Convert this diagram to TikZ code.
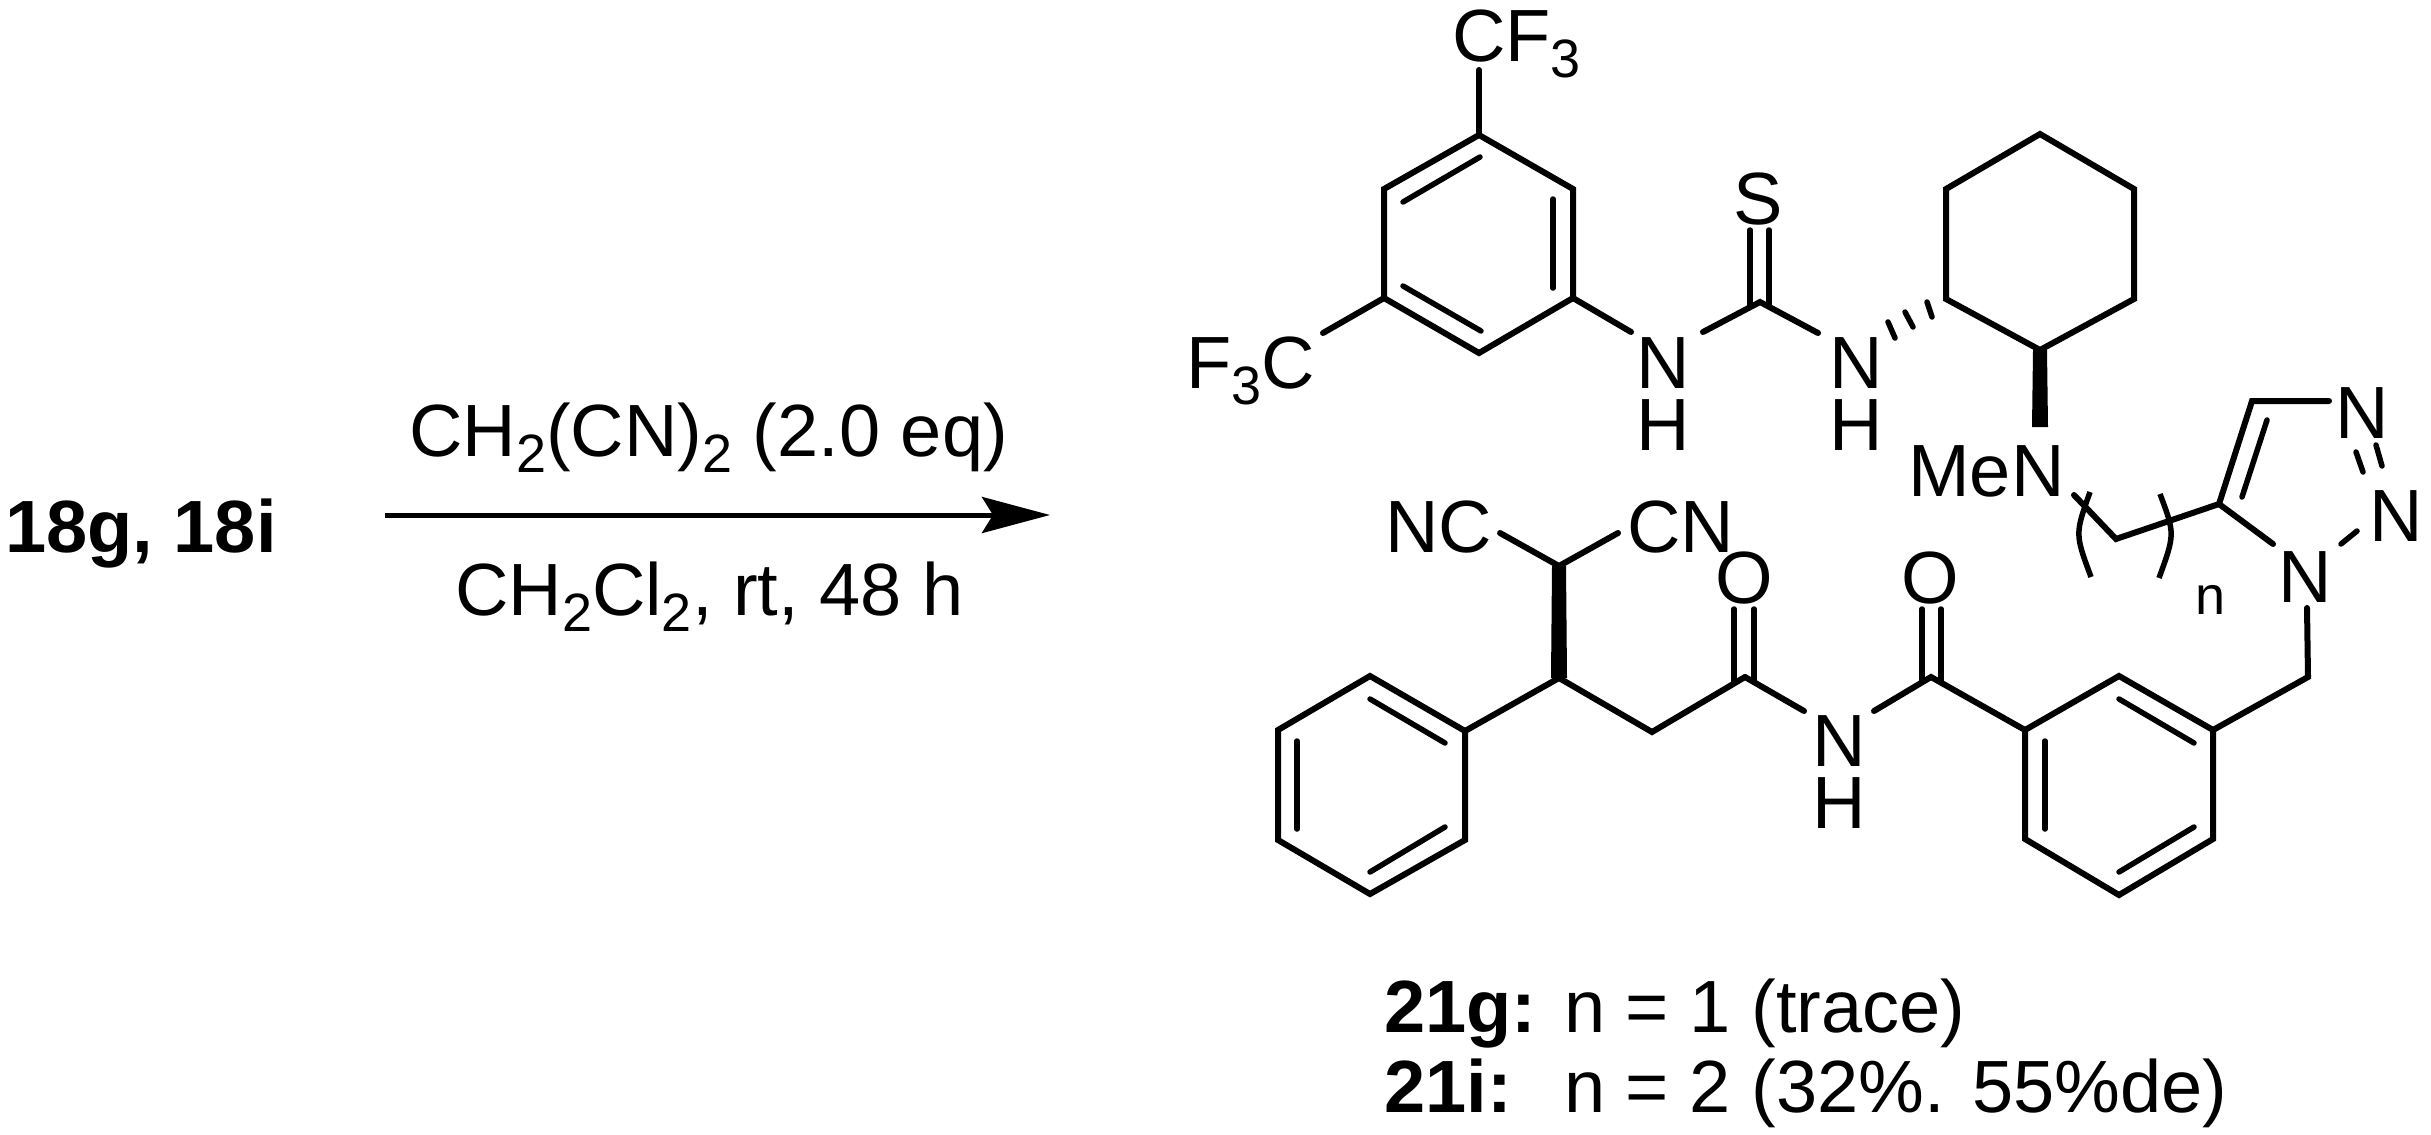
\documentclass[tikz,border=0pt]{standalone}
\usepackage{fontspec}
\usetikzlibrary{arrows.meta}
\setmainfont{Liberation Sans}
\newcommand{\atomsize}{\fontsize{74}{80}\selectfont}
\newcommand{\lab}[1]{\raisebox{-16pt}{\fontsize{54}{60}\selectfont #1}}
\begin{document}
\begin{tikzpicture}[
      x=1pt,
      y=-1pt,
      atom/.style={
        inner sep=0pt,
        anchor=base,
        font=\atomsize
      },
      atomleft/.style={
        atom,
        anchor=base west
      },
      bond/.style={
        line width=6pt,
        line cap=round
      },
      thinbond/.style={
        line width=5.5pt,
        line cap=round
      }
    ]
    \useasboundingbox (0,0) rectangle (2431,1135);

    % reaction arrow and its texts
    \node[atomleft] (start) at (5,552) {\bfseries 18g, 18i};
    \node[atomleft] (above) at (409,456) {CH\lab{2}(CN)\lab{2} (2.0 eq)};
    \node[atomleft] (below) at (455,615) {CH\lab{2}Cl\lab{2}, rt, 48 h};
    \node[coordinate] (arl) at (385,515) {};
    \node[coordinate] (arr) at (1050,515) {};
    \draw[line width=5pt,-{Stealth[length=68pt,width=36pt,inset=11pt]}] (arl) -- (arr);

    % ring with the two CF3
    \node[coordinate] (a1) at (1479,135) {};
    \node[coordinate] (a2) at (1573,189) {};
    \node[coordinate] (a3) at (1573,298) {};
    \node[coordinate] (a4) at (1479,353) {};
    \node[coordinate] (a5) at (1384,298) {};
    \node[coordinate] (a6) at (1384,189) {};
    \draw[bond] (a1) -- (a2) -- (a3) -- (a4) -- (a5) -- (a6) -- cycle;
    \node[coordinate] (a1i) at (1480,157) {};
    \node[coordinate] (a6i) at (1403,202) {};
    \node[coordinate] (a2i) at (1553,199) {};
    \node[coordinate] (a3i) at (1553,288) {};
    \node[coordinate] (a5i) at (1403,286) {};
    \node[coordinate] (a4i) at (1481,331) {};
    \draw[thinbond] (a1i) -- (a6i);
    \draw[thinbond] (a2i) -- (a3i);
    \draw[thinbond] (a5i) -- (a4i);

    \node[atomleft] (cf3) at (1452,61) {CF\lab{3}};
    \node[atomleft] (f3c) at (1186,388) {F\lab{3}C};
    \node[coordinate] (cf3b) at (1479,70) {};
    \node[coordinate] (f3cb) at (1323,333) {};
    \draw[bond] (a1) -- (cf3b);
    \draw[bond] (a5) -- (f3cb);

    % thiourea
    \node[atom] (n1) at (1663,388) {N};
    \node[atom] (h1) at (1663,450) {H};
    \node[atom] (n2) at (1856,388) {N};
    \node[atom] (h2) at (1856,450) {H};
    \node[atom] (s) at (1758,224) {S};
    \node[coordinate] (ct) at (1760,302) {};
    \node[coordinate] (n1l) at (1631,332) {};
    \node[coordinate] (n1r) at (1703,332) {};
    \node[coordinate] (n2l) at (1818,333) {};
    \node[coordinate] (s1) at (1750,230) {};
    \node[coordinate] (s2) at (1769,230) {};
    \node[coordinate] (ct1) at (1750,306) {};
    \node[coordinate] (ct2) at (1769,306) {};
    \draw[bond] (a3) -- (n1l);
    \draw[bond] (n1r) -- (ct) -- (n2l);
    \draw[thinbond] (s1) -- (ct1);
    \draw[thinbond] (s2) -- (ct2);

    % cyclohexane
    \node[coordinate] (c1) at (2040,134) {};
    \node[coordinate] (c2) at (2134,189) {};
    \node[coordinate] (c3) at (2134,299) {};
    \node[coordinate] (c4) at (2040,350) {};
    \node[coordinate] (c5) at (1946,299) {};
    \node[coordinate] (c6) at (1946,189) {};
    \draw[bond] (c1) -- (c2) -- (c3) -- (c4) -- (c5) -- (c6) -- cycle;
    \node[coordinate] (h1a) at (1927,302) {};
    \node[coordinate] (h1b) at (1932,317) {};
    \node[coordinate] (h2a) at (1905,312) {};
    \node[coordinate] (h2b) at (1913,327) {};
    \node[coordinate] (h3a) at (1888,322) {};
    \node[coordinate] (h3b) at (1895,338) {};
    \draw[thinbond] (h1a) -- (h1b);
    \draw[thinbond] (h2a) -- (h2b);
    \draw[thinbond] (h3a) -- (h3b);
    \node[coordinate] (w1a) at (2033,350) {};
    \node[coordinate] (w1b) at (2047,350) {};
    \node[coordinate] (w1c) at (2048,427) {};
    \node[coordinate] (w1d) at (2032,427) {};
    \fill (w1a) -- (w1b) -- (w1c) -- (w1d) -- cycle;

    % chain and triazole
    \node[atomleft] (men) at (1908,496) {MeN};
    \node[coordinate] (e1) at (2074,495) {};
    \node[coordinate] (e2) at (2116,539) {};
    \node[coordinate] (t5) at (2219,504) {};
    \node[coordinate] (t4) at (2252,401) {};
    \node[coordinate] (t3) at (2329,401) {};
    \node[coordinate] (t1) at (2273,544) {};
    \draw[bond] (e1) -- (e2) -- (t5) -- (t4) -- (t3);
    \draw[bond] (t5) -- (t1);
    \node[coordinate] (t4i) at (2267,420) {};
    \node[coordinate] (t5i) at (2242,497) {};
    \draw[thinbond] (t4i) -- (t5i);
    \node[atom] (nc) at (2362,438) {N};
    \node[atom] (nb) at (2396,541) {N};
    \node[atom] (na) at (2305,602) {N};
    \node[coordinate] (d1a) at (2376,445) {};
    \node[coordinate] (d1b) at (2382,466) {};
    \node[coordinate] (d2a) at (2356,452) {};
    \node[coordinate] (d2b) at (2363,472) {};
    \draw[thinbond] (d1a) -- (d1b);
    \draw[thinbond] (d2a) -- (d2b);
    \node[coordinate] (ss1) at (2357,531) {};
    \node[coordinate] (ss2) at (2341,544) {};
    \draw[thinbond] (ss1) -- (ss2);

    % repeat unit brackets
    \node[coordinate] (bl1) at (2090,492) {};
    \node[coordinate] (blc) at (2075,534) {};
    \node[coordinate] (bl2) at (2091,577) {};
    \node[coordinate] (br1) at (2160,494) {};
    \node[coordinate] (brc) at (2175,534) {};
    \node[coordinate] (br2) at (2159,578) {};
    \draw[thinbond,line cap=butt] (bl1) .. controls (blc) .. (bl2);
    \draw[thinbond,line cap=butt] (br1) .. controls (brc) .. (br2);
    \node[atom,font=\fontsize{54}{60}\selectfont] (rep) at (2210,614) {n};

    % benzyl ring
    \node[coordinate] (na1) at (2307,608) {};
    \node[coordinate] (ch2) at (2308,677) {};
    \node[coordinate] (b1) at (2119,676) {};
    \node[coordinate] (b2) at (2213,730) {};
    \node[coordinate] (b3) at (2213,839) {};
    \node[coordinate] (b4) at (2119,895) {};
    \node[coordinate] (b5) at (2025,839) {};
    \node[coordinate] (b6) at (2025,730) {};
    \draw[bond] (b1) -- (b2) -- (b3) -- (b4) -- (b5) -- (b6) -- cycle;
    \draw[bond] (na1) -- (ch2) -- (b2);
    \node[coordinate] (b1i) at (2119,699) {};
    \node[coordinate] (b2i) at (2194,743) {};
    \node[coordinate] (b6i) at (2045,741) {};
    \node[coordinate] (b5i) at (2045,829) {};
    \node[coordinate] (b4i) at (2119,872) {};
    \node[coordinate] (b3i) at (2194,827) {};
    \draw[thinbond] (b1i) -- (b2i);
    \draw[thinbond] (b6i) -- (b5i);
    \draw[thinbond] (b4i) -- (b3i);

    % imide
    \node[coordinate] (co2) at (1931,677) {};
    \node[coordinate] (co1) at (1745,677) {};
    \node[atom] (o2) at (1930.5,603) {O};
    \node[atom] (o1) at (1744.5,603) {O};
    \node[atom] (n3) at (1839,766) {N};
    \node[atom] (h3) at (1839,828) {H};
    \node[coordinate] (n3l) at (1804,711) {};
    \node[coordinate] (n3r) at (1874,711) {};
    \node[coordinate] (o2a) at (1922,609) {};
    \node[coordinate] (o2b) at (1941,609) {};
    \node[coordinate] (co2a) at (1922,681) {};
    \node[coordinate] (co2b) at (1941,681) {};
    \node[coordinate] (o1a) at (1734,609) {};
    \node[coordinate] (o1b) at (1754,609) {};
    \node[coordinate] (co1a) at (1734,681) {};
    \node[coordinate] (co1b) at (1754,681) {};
    \draw[thinbond] (o2a) -- (co2a);
    \draw[thinbond] (o2b) -- (co2b);
    \draw[thinbond] (o1a) -- (co1a);
    \draw[thinbond] (o1b) -- (co1b);
    \draw[bond] (b6) -- (co2) -- (n3r);
    \draw[bond] (n3l) -- (co1);

    % malononitrile part and phenyl
    \node[coordinate] (st) at (1559,678) {};
    \node[coordinate] (me) at (1652,732) {};
    \node[coordinate] (cm) at (1559,566) {};
    \node[coordinate] (cnl) at (1500,533) {};
    \node[coordinate] (cnr) at (1618,533) {};
    \node[atomleft] (ncl) at (1385,552) {NC};
    \node[atomleft] (cnn) at (1627,552) {CN};
    \draw[bond] (cnl) -- (cm) -- (cnr);
    \draw[bond] (st) -- (me) -- (co1);
    \node[coordinate] (w2a) at (1552,566) {};
    \node[coordinate] (w2b) at (1566,566) {};
    \node[coordinate] (w2c) at (1567,678) {};
    \node[coordinate] (w2d) at (1551,678) {};
    \fill (w2a) -- (w2b) -- (w2c) -- (w2d) -- cycle;
    \node[coordinate] (p1) at (1465,731) {};
    \node[coordinate] (p2) at (1370,676) {};
    \node[coordinate] (p3) at (1278,730) {};
    \node[coordinate] (p4) at (1278,840) {};
    \node[coordinate] (p5) at (1370,894) {};
    \node[coordinate] (p6) at (1465,840) {};
    \draw[bond] (p1) -- (p2) -- (p3) -- (p4) -- (p5) -- (p6) -- cycle;
    \draw[bond] (st) -- (p1);
    \node[coordinate] (p2i) at (1370,699) {};
    \node[coordinate] (p1i) at (1445,743) {};
    \node[coordinate] (p3i) at (1297,741) {};
    \node[coordinate] (p4i) at (1297,829) {};
    \node[coordinate] (p5i) at (1370,872) {};
    \node[coordinate] (p6i) at (1445,827) {};
    \draw[thinbond] (p2i) -- (p1i);
    \draw[thinbond] (p3i) -- (p4i);
    \draw[thinbond] (p5i) -- (p6i);

    % yields
    \node[atomleft] (g) at (1384,1032) {\bfseries 21g:};
    \node[atomleft] (gn) at (1564,1032) {n = 1 (trace)};
    \node[atomleft] (i) at (1384,1112) {\bfseries 21i:};
    \node[atomleft] (in) at (1564,1112) {n = 2 (32\%. 55\%de)};

  \end{tikzpicture}
\end{document}
